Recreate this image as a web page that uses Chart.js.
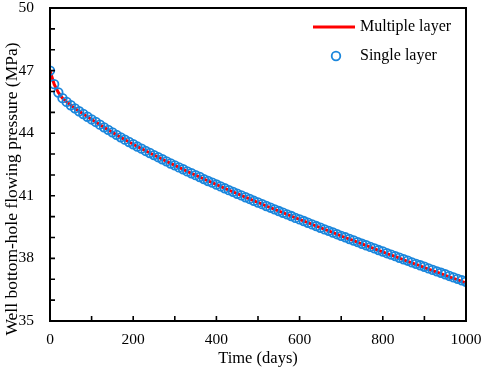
<!DOCTYPE html>
<html>
<head>
<meta charset="utf-8">
<script src="https://cdn.jsdelivr.net/npm/chart.js@4"></script>
<style>
  html, body { margin: 0; padding: 0; background: #fff; }
  #wrap { width: 484px; height: 371px; }
</style>
</head>
<body>
<div id="wrap"><canvas id="pressure"></canvas></div>
<script>
// time axis (days), one sample every 10 days
const days = [0, 10, 20, 30, 40, 50, 60, 70, 80, 90,
    100, 110, 120, 130, 140, 150, 160, 170, 180, 190,
    200, 210, 220, 230, 240, 250, 260, 270, 280, 290,
    300, 310, 320, 330, 340, 350, 360, 370, 380, 390,
    400, 410, 420, 430, 440, 450, 460, 470, 480, 490,
    500, 510, 520, 530, 540, 550, 560, 570, 580, 590,
    600, 610, 620, 630, 640, 650, 660, 670, 680, 690,
    700, 710, 720, 730, 740, 750, 760, 770, 780, 790,
    800, 810, 820, 830, 840, 850, 860, 870, 880, 890,
    900, 910, 920, 930, 940, 950, 960, 970, 980, 990, 1000];

// single layer model (blue circles), MPa
const singleLayer = [47.00, 46.35, 45.95, 45.68, 45.50, 45.34, 45.19, 45.05, 44.92, 44.79,
    44.66, 44.54, 44.41, 44.28, 44.16, 44.04, 43.92, 43.80, 43.69, 43.58,
    43.47, 43.36, 43.26, 43.15, 43.05, 42.95, 42.85, 42.75, 42.65, 42.55,
    42.46, 42.36, 42.27, 42.17, 42.08, 41.99, 41.90, 41.80, 41.71, 41.63,
    41.54, 41.45, 41.36, 41.27, 41.19, 41.10, 41.02, 40.93, 40.85, 40.76,
    40.68, 40.60, 40.51, 40.43, 40.35, 40.27, 40.19, 40.11, 40.03, 39.94,
    39.87, 39.79, 39.71, 39.63, 39.55, 39.47, 39.39, 39.32, 39.24, 39.16,
    39.08, 39.01, 38.93, 38.86, 38.78, 38.70, 38.63, 38.55, 38.48, 38.40,
    38.33, 38.25, 38.18, 38.11, 38.03, 37.96, 37.89, 37.81, 37.74, 37.67,
    37.60, 37.52, 37.45, 37.38, 37.31, 37.24, 37.16, 37.09, 37.02, 36.95, 36.88];

// multiple layer model (red line), MPa
const multipleLayer = [47.00, 46.35, 45.95, 45.68, 45.50, 45.34, 45.19, 45.05, 44.92, 44.79,
    44.66, 44.54, 44.41, 44.28, 44.16, 44.04, 43.92, 43.80, 43.69, 43.58,
    43.47, 43.36, 43.26, 43.15, 43.05, 42.95, 42.85, 42.75, 42.65, 42.55,
    42.46, 42.36, 42.27, 42.17, 42.08, 41.99, 41.90, 41.80, 41.71, 41.63,
    41.54, 41.45, 41.36, 41.27, 41.19, 41.10, 41.02, 40.93, 40.85, 40.76,
    40.68, 40.60, 40.51, 40.43, 40.35, 40.27, 40.19, 40.11, 40.03, 39.94,
    39.87, 39.79, 39.71, 39.63, 39.55, 39.47, 39.39, 39.32, 39.24, 39.16,
    39.07, 39.00, 38.92, 38.85, 38.77, 38.69, 38.62, 38.54, 38.46, 38.38,
    38.31, 38.23, 38.16, 38.09, 38.01, 37.93, 37.86, 37.78, 37.71, 37.64,
    37.56, 37.48, 37.41, 37.34, 37.27, 37.19, 37.11, 37.04, 36.97, 36.90, 36.82];

const xLabels = [0, 200, 400, 600, 800, 1000];
const yLabels = [35, 38, 41, 44, 47, 50];

const xTitle = "Time (days)";
const yTitle = "Well bottom-hole flowing pressure (MPa)";
const seriesNames = ["Multiple layer", "Single layer"];

const serif = "'Liberation Serif', 'Times New Roman', serif";
const blue = "#1a86dc";
const red = "#ff0000";

const toPoints = (vals) => days.map((d, i) => ({ x: d, y: vals[i] }));

//box, inward ticks, tick labels, titles and legend
const framePlugin = {
    id: "frame",
    afterDraw(chart) {
        const ctx = chart.ctx;
        const a = chart.chartArea;
        const xs = chart.scales.x;
        const ys = chart.scales.y;
        ctx.save();

        ctx.strokeStyle = "#000";
        ctx.lineWidth = 2;
        ctx.strokeRect(a.left, a.top, a.right - a.left, a.bottom - a.top);

        //ticks pointing into the plot
        ctx.lineWidth = 1.6;
        ctx.beginPath();
        for (let v = 100; v < 1000; v += 100) {
            const px = xs.getPixelForValue(v);
            ctx.moveTo(px, a.bottom);
            ctx.lineTo(px, a.bottom - 5);
        }
        for (let v = 36; v < 50; v++) {
            const py = ys.getPixelForValue(v);
            ctx.moveTo(a.left, py);
            ctx.lineTo(a.left + 5, py);
        }
        ctx.stroke();

        //tick labels
        ctx.fillStyle = "#000";
        ctx.font = "15.5px " + serif;
        ctx.textBaseline = "middle";
        ctx.textAlign = "center";
        xLabels.forEach((v) => {
            ctx.fillText(String(v), xs.getPixelForValue(v), 340);
        });
        ctx.textAlign = "right";
        yLabels.forEach((v) => {
            ctx.fillText(String(v), 34, ys.getPixelForValue(v));
        });

        //axis titles
        ctx.textAlign = "center";
        ctx.font = "16.5px " + serif;
        ctx.fillText(xTitle, (a.left + a.right) / 2, 359);

        ctx.save();
        ctx.translate(12, 189);
        ctx.rotate(-Math.PI / 2);
        ctx.font = "17.5px " + serif;
        ctx.fillText(yTitle, 0, 0);
        ctx.restore();

        //legend
        ctx.strokeStyle = red;
        ctx.lineWidth = 3;
        ctx.beginPath();
        ctx.moveTo(313, 27);
        ctx.lineTo(355, 27);
        ctx.stroke();

        ctx.strokeStyle = blue;
        ctx.lineWidth = 1.8;
        ctx.beginPath();
        ctx.arc(336, 56, 4.3, 0, Math.PI * 2);
        ctx.stroke();

        ctx.fillStyle = "#000";
        ctx.textAlign = "left";
        ctx.font = "16px " + serif;
        ctx.fillText(seriesNames[0], 360, 27);
        ctx.fillText(seriesNames[1], 360, 56);

        ctx.restore();
    }
};

const ctx = document.getElementById("pressure").getContext("2d");

new Chart(ctx, {
    type: "line",
    data: {
        datasets: [
            {
                label: seriesNames[1],
                data: toPoints(singleLayer),
                showLine: false,
                pointRadius: 4.3,
                pointBorderWidth: 1.8,
                pointBorderColor: blue,
                pointBackgroundColor: "rgba(0,0,0,0)",
                order: 0,
            },
            {
                label: seriesNames[0],
                data: toPoints(multipleLayer),
                borderColor: red,
                borderWidth: 3,
                pointRadius: 0,
                tension: 0,
                order: 1,
            },
        ],
    },
    options: {
        responsive: true,
        maintainAspectRatio: false,
        animation: false,
        layout: { padding: { top: 8, right: 18, left: 0, bottom: 0 } },
        plugins: {
            legend: { display: false },
            tooltip: { enabled: false },
        },
        scales: {
            x: {
                type: "linear",
                min: 0,
                max: 1000,
                afterFit: (s) => { s.height = 50; },
                grid: { display: false, drawTicks: false },
                border: { display: false },
                ticks: { display: false },
            },
            y: {
                type: "linear",
                min: 35,
                max: 50,
                afterFit: (s) => { s.width = 50; },
                grid: { display: false, drawTicks: false },
                border: { display: false },
                ticks: { display: false },
            },
        },
    },
    plugins: [framePlugin],
});
</script>
</body>
</html>
